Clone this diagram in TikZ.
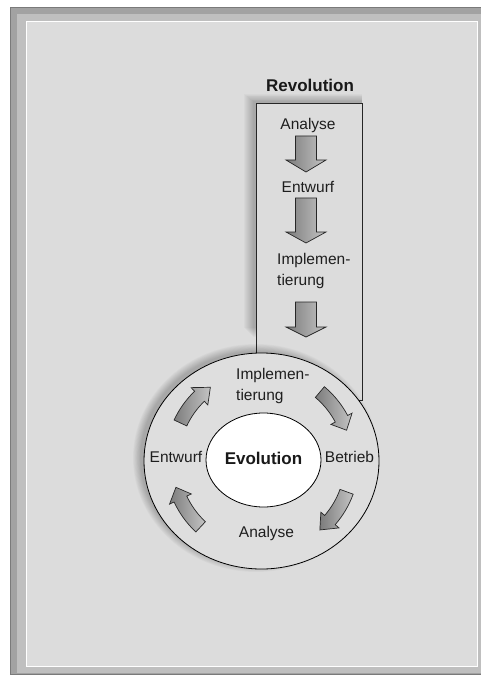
\documentclass[tikz,border=0pt]{standalone}
\usepackage{fontspec}
\setmainfont{Liberation Sans}
\definecolor{pagebg}{HTML}{DCDCDC}
\definecolor{bandouter}{HTML}{A2A2A2}
\definecolor{bandline}{HTML}{7A7A7A}
\definecolor{bandinner}{HTML}{BFBFBF}
\definecolor{ringfill}{HTML}{DEDEDE}
\definecolor{txt}{HTML}{1E1E1E}
\definecolor{arrowdark}{HTML}{7C7C7C}
\definecolor{arrowlight}{HTML}{C4C4C4}
\newcommand{\dnarrow}[3]{% shaft top, head base, tip
  \draw[flow] (295.5,-#1) -- (316.5,-#1) -- (316.5,-#2) -- (326,-#2) -- (306,-#3)
    -- (286,-#2) -- (295.5,-#2) -- cycle;}
\newcommand{\ringarrow}[3]{% tail angle, head base angle, tip angle
  \draw[flow] (#1:97) arc[start angle=#1, end angle=#2, radius=97] -- (#2:102)
    -- (#3:90) -- (#2:78) -- (#2:83) arc[start angle=#2, end angle=#1, radius=83] -- cycle;}
\begin{document}
\begin{tikzpicture}[x=1pt,y=1pt,
  lbl/.style={font=\fontsize{15.5}{21}\selectfont, text=txt, inner sep=0pt, align=left},
  ttl/.style={font=\bfseries\fontsize{17}{20}\selectfont, text=black!90, inner sep=0pt},
  flow/.style={draw=black!85, line width=0.7pt, left color=arrowdark, right color=arrowlight},
  outline/.style={draw=black, line width=0.8pt}]
\useasboundingbox (0,0) rectangle (480,-676);
% page frame
\fill[white] (0,0) rectangle (480,-676);
\filldraw[fill=bandouter, draw=bandline, line width=1pt] (10.5,-7.5) rectangle (490,-674);
\fill[bandinner] (17,-14) rectangle (490,-673);
\filldraw[fill=pagebg, draw=white, line width=1pt] (26,-22) rectangle (477,-666);

% soft shadow behind the Revolution column
\foreach \i in {1,...,10}
  \fill[black, opacity=0.024] (254-\i, -102+0.8*\i) rectangle (362, -338+\i);
% Revolution column
\node[ttl] (rev) at (310,-85) {Revolution};
\filldraw[fill=pagebg, draw=black!85, line width=0.7pt] (256,-103) rectangle (362,-400);
\node[lbl] (ana1) at (308,-125) {Analyse};
\node[lbl] (ent1) at (308,-187) {Entwurf};
\node[lbl, anchor=west] (imp1) at (277,-271) {Implemen-\\tierung};
\dnarrow{136}{160}{172}
\dnarrow{198}{232}{243}
\dnarrow{302}{327}{337}

% soft shadow behind the Evolution cycle
\foreach \i in {1,...,10}
  \fill[black, opacity=0.022] (256,-458) ellipse [x radius=115+\i*0.8, y radius=106+\i*0.8];
\filldraw[fill=ringfill, outline] (261.5,-461) ellipse [x radius=117.5, y radius=108];
\filldraw[fill=white, outline] (263.5,-460) ellipse [x radius=57.5, y radius=47];
\node[ttl] (evo) at (263.5,-458) {Evolution};
\node[lbl, anchor=west] (imp2) at (236,-386) {Implemen-\\tierung};
\node[lbl] (ent2) at (176,-457) {Entwurf};
\node[lbl] (bet2) at (349.5,-457) {Betrieb};
\node[lbl] (ana2) at (266.5,-533) {Analyse};
\begin{scope}[shift={(262,-461)}]
  \ringarrow{155}{134}{125}
  \ringarrow{50}{28}{20}
  \ringarrow{-20}{-41}{-50}
  \ringarrow{-133}{-155}{-163}
\end{scope}
\end{tikzpicture}
\end{document}
